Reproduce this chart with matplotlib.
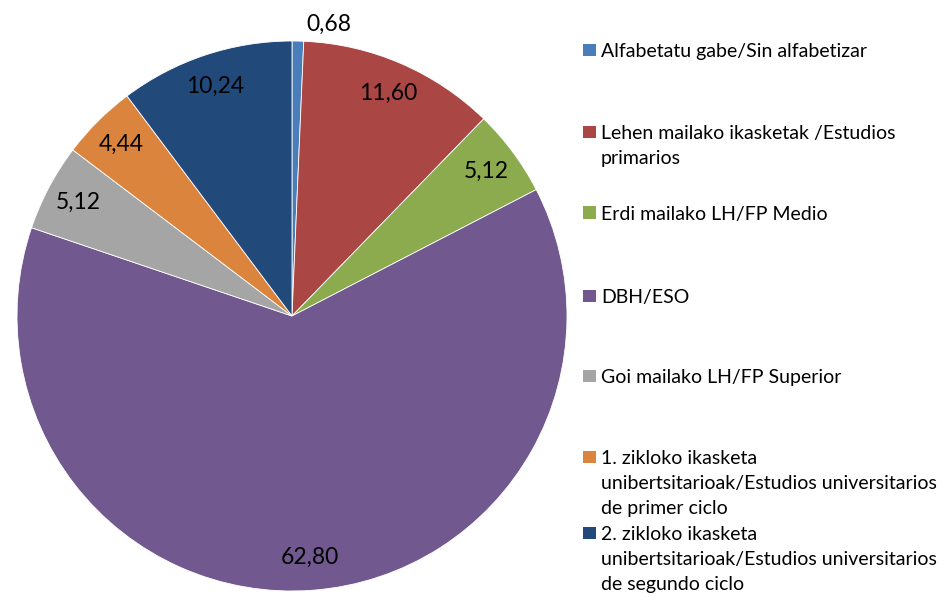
import numpy as np
import matplotlib.pyplot as plt
from matplotlib.patches import Rectangle

plt.rcParams['font.family'] = ['Lato', 'DejaVu Sans']

# Ikasketa maila (%)
kategoriak = [
    "Alfabetatu gabe/Sin alfabetizar",
    "Lehen mailako ikasketak /Estudios\nprimarios",
    "Erdi mailako LH/FP Medio",
    "DBH/ESO",
    "Goi mailako LH/FP Superior",
    "1. zikloko ikasketa\nunibertsitarioak/Estudios universitarios\nde primer ciclo",
    "2. zikloko ikasketa\nunibertsitarioak/Estudios universitarios\nde segundo ciclo",
]
balioak = [0.68, 11.60, 5.12, 62.80, 5.12, 4.44, 10.24]
koloreak = ["#4A7EBB", "#AA4644", "#8CAA4E", "#71588F", "#A5A5A5", "#DB843D", "#214A7B"]

W, H = 943, 597
fig = plt.figure(figsize=(W / 100, H / 100), dpi=100)

# pie: erdigunea (292, 316) px, erradioa 275 px
cx, cy, R = 292, 316, 275
ax = fig.add_axes([(cx - R) / W, (H - cy - R) / H, 2 * R / W, 2 * R / H])
wedges, _ = ax.pie(balioak, colors=koloreak, startangle=90, counterclock=False,
                   radius=1.0, wedgeprops=dict(edgecolor="white", linewidth=0.6))
ax.set_xlim(-1, 1)
ax.set_ylim(-1, 1)

for w, v in zip(wedges, balioak):
    ang = np.deg2rad((w.theta1 + w.theta2) / 2)
    dist = 0.88
    if v < 2:
        # zati txikia: etiketa kanpoan
        ang = ang - np.deg2rad(6)
        dist = 1.07
    ax.text(dist * np.cos(ang), dist * np.sin(ang), f"{v:.2f}".replace(".", ","),
            ha="center", va="center", fontsize=16.5, color="black", clip_on=False)

# legenda: lerro bakoitza bere aldetik, 25 px-ko tartearekin
goiak = [50, 132, 213, 296, 376, 457, 533]
for y, kat, kol in zip(goiak, kategoriak, koloreak):
    fig.add_artist(Rectangle((583 / W, 1 - (y + 6) / H), 12.5 / W, 12.5 / H,
                             transform=fig.transFigure, facecolor=kol, edgecolor="none"))
    for i, lerroa in enumerate(kat.split("\n")):
        fig.text(601 / W, 1 - (y + 25 * i) / H, lerroa, ha="left",
                 va="center_baseline", fontsize=14)

fig.savefig("out.png", dpi=100)
